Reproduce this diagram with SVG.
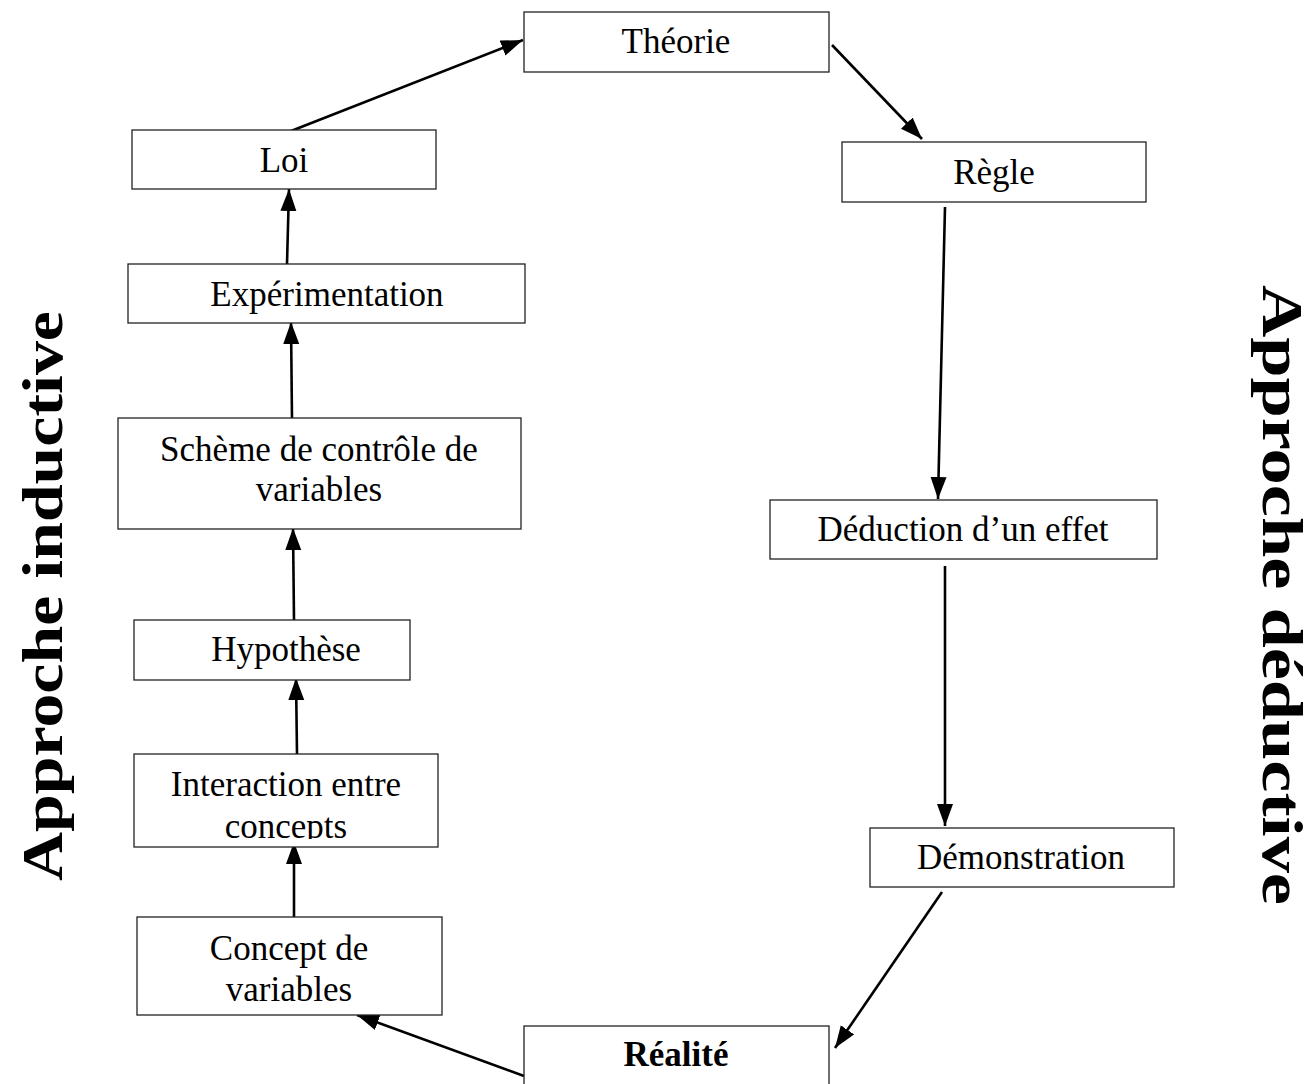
<svg xmlns="http://www.w3.org/2000/svg" width="1313" height="1084" viewBox="0 0 1313 1084">
<style>
.box{fill:#fff;stroke:#222;stroke-width:1.3}
.t{font-family:"Liberation Serif","Times New Roman",serif;font-size:35px;fill:#000;text-anchor:middle}
.b{font-weight:bold}
.side{font-family:"Liberation Serif","Times New Roman",serif;font-size:58px;font-weight:bold;fill:#000;text-anchor:middle}
.c{stroke:#000;stroke-width:2.6;fill:none;marker-end:url(#ah)}
</style>
<defs>
<marker id="ah" markerUnits="userSpaceOnUse" markerWidth="24" markerHeight="18" refX="22" refY="8" orient="auto" viewBox="0 0 24 16">
<path d="M0,0 L22,8 L0,16 Z" fill="#000"/>
</marker>
<clipPath id="clipInter"><rect x="134" y="754" width="304" height="85"/></clipPath>
</defs>
<rect width="1313" height="1084" fill="#fff"/>
<g id="connectors">
<line class="c" x1="291" y1="131" x2="523" y2="40"/>
<line class="c" x1="832" y1="45" x2="922" y2="139"/>
<line class="c" x1="945" y1="207" x2="938" y2="499"/>
<line class="c" x1="945" y1="566" x2="945" y2="826"/>
<line class="c" x1="942" y1="892" x2="835" y2="1048"/>
<line class="c" x1="524" y1="1076" x2="357" y2="1015"/>
<line class="c" x1="294" y1="917" x2="294" y2="842"/>
<line class="c" x1="297" y1="754" x2="296" y2="678"/>
<line class="c" x1="294" y1="620" x2="293" y2="528"/>
<line class="c" x1="292" y1="420" x2="291" y2="322"/>
<line class="c" x1="287" y1="264" x2="289" y2="189"/>
</g>
<g id="theorie"><rect class="box" x="524" y="12" width="305" height="60"/><text class="t" x="676" y="53">Théorie</text></g>
<g id="loi"><rect class="box" x="132" y="130" width="304" height="59"/><text class="t" x="284" y="172">Loi</text></g>
<g id="regle"><rect class="box" x="842" y="142" width="304" height="60"/><text class="t" x="994" y="184">Règle</text></g>
<g id="experimentation"><rect class="box" x="128" y="264" width="397" height="59"/><text class="t" x="327" y="306">Expérimentation</text></g>
<g id="scheme"><rect class="box" x="118" y="418" width="403" height="111"/><text class="t" x="319" y="461">Schème de contrôle de</text><text class="t" x="319" y="501">variables</text></g>
<g id="deduction"><rect class="box" x="770" y="500" width="387" height="59"/><text class="t" x="963" y="541">Déduction d’un effet</text></g>
<g id="hypothese"><rect class="box" x="134" y="620" width="276" height="60"/><text class="t" x="286" y="661">Hypothèse</text></g>
<g id="interaction"><rect class="box" x="134" y="754" width="304" height="93"/><g clip-path="url(#clipInter)"><text class="t" x="286" y="796">Interaction entre</text><text class="t" x="286" y="838">concepts</text></g></g>
<g id="demonstration"><rect class="box" x="870" y="828" width="304" height="59"/><text class="t" x="1021" y="869">Démonstration</text></g>
<g id="concept"><rect class="box" x="137" y="917" width="305" height="98"/><text class="t" x="289" y="960">Concept de</text><text class="t" x="289" y="1001">variables</text></g>
<g id="realite"><rect class="box" x="524" y="1026" width="305" height="70"/><text class="t b" x="676" y="1066">Réalité</text></g>
<text class="side" transform="translate(62,596) rotate(-90)" x="0" y="0" textLength="570" lengthAdjust="spacingAndGlyphs">Approche inductive</text>
<text class="side" transform="translate(1263,595) rotate(90)" x="0" y="0" textLength="620" lengthAdjust="spacingAndGlyphs">Approche déductive</text>
</svg>
